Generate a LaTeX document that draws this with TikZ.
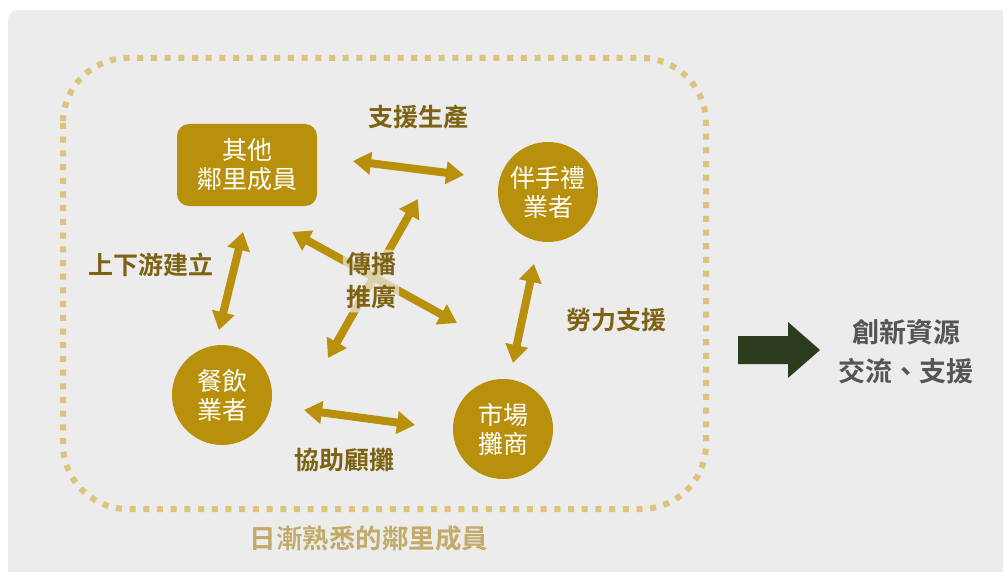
\documentclass[tikz,border=0pt]{standalone}
\usepackage{fontspec}
\newfontfamily\cjk{Noto Sans CJK TC}[BoldFont={Noto Sans CJK TC Bold}]
\usetikzlibrary{arrows.meta}
\definecolor{bg}{HTML}{ECECEC}
\definecolor{gold}{HTML}{B8900B}
\definecolor{lbl}{HTML}{7D6214}
\definecolor{dotc}{HTML}{DCC47E}
\definecolor{botc}{HTML}{C2AA68}
\definecolor{dgreen}{HTML}{2B3B1B}
\definecolor{rtext}{HTML}{555555}
\tikzset{
  dbl/.style={draw=gold, line width=8pt,
    {Triangle[width=22pt,length=18pt]}-{Triangle[width=22pt,length=18pt]}},
  actor/.style={fill=gold, text=white, align=center, inner sep=0pt,
    font=\cjk\fontsize{25}{29}\selectfont},
  roundnode/.style={actor, circle, minimum size=100pt},
  boxnode/.style={actor, rounded corners=12pt, minimum width=140pt, minimum height=82pt},
  lab/.style={text=lbl, align=center, inner sep=1pt, font=\cjk\bfseries\fontsize{25}{33}\selectfont}
}
\begin{document}
\begin{tikzpicture}[x=1pt,y=-1pt]
\useasboundingbox (0,0) rectangle (1003,572);
\fill[white] (0,0) rectangle (1003,572);
\fill[bg, rounded corners=10pt] (8,10) rectangle (1020,590);
% dotted group frame
\draw[dotc, line width=6pt, dash pattern=on 6pt off 7.7pt, rounded corners=65pt]
  (63,58) rectangle (706,509);
\node[text=botc, font=\cjk\bfseries\fontsize{26.5}{30}\selectfont] (grp) at (369,538) {日漸熟悉的鄰里成員};

% actors
\node[boxnode] (other) at (247,165) {其他\\鄰里成員};
\node[roundnode] (gift) at (548,192) {伴手禮\\業者};
\node[roundnode] (food) at (222,395) {餐飲\\業者};
\node[roundnode] (market) at (503,429) {市場\\攤商};

% arrow end points
\coordinate (a1) at (353,161); \coordinate (a2) at (464,175);
\coordinate (b1) at (243,232); \coordinate (b2) at (219,330);
\coordinate (c1) at (534,264); \coordinate (c2) at (513,363);
\coordinate (d1) at (304,410); \coordinate (d2) at (415,425);
\coordinate (e1) at (292,232); \coordinate (e2) at (457,323);
\coordinate (f1) at (418,199); \coordinate (f2) at (328,358);

\draw[dbl] (a1) -- (a2);
\draw[dbl] (b1) -- (b2);
\draw[dbl] (c1) -- (c2);
\draw[dbl] (d1) -- (d2);
\draw[dbl] (e1) -- (e2);
\draw[dbl] (f1) -- (f2);

% labels
\node[lab] (l1) at (418,117) {支援生產};
\node[lab] (l2) at (151,265) {上下游建立};
\node[lab] (l3) at (616,320) {勞力支援};
\node[lab] (l4) at (344,460) {協助顧攤};
\node[lab, fill=bg, fill opacity=0.7, text opacity=1, rounded corners=8pt, inner sep=3pt] (l5) at (371,281) {傳播\\推廣};

% outcome
\fill[dgreen] (738,336) -- (788,336) -- (788,322) -- (820,350) -- (788,378) -- (788,364) -- (738,364) -- cycle;
\coordinate (bigarrow) at (779,350);
\node[text=rtext, align=center, font=\cjk\bfseries\fontsize{27}{39}\selectfont] (out) at (906,352) {創新資源\\交流、支援};
\end{tikzpicture}
\end{document}
